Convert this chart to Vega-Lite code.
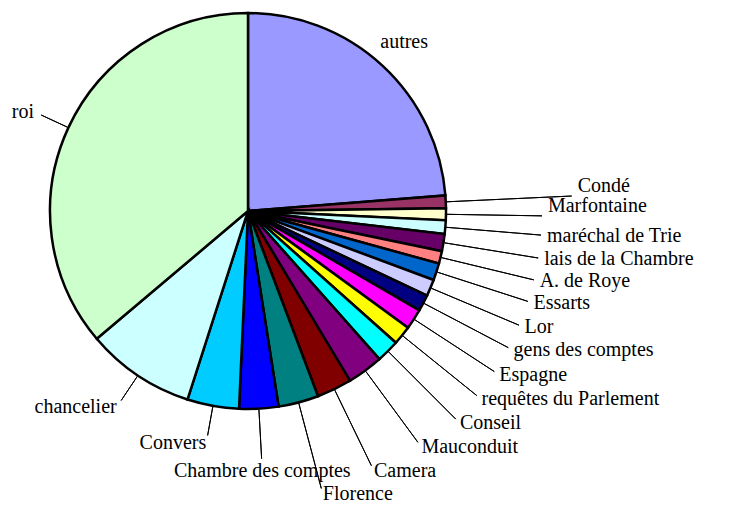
{
  "$schema": "https://vega.github.io/schema/vega-lite/v6.json",
  "width": 496,
  "height": 422,
  "autosize": {"type": "none"},
  "padding": {"left": 0, "top": 0, "right": 254, "bottom": 84},
  "background": "white",
  "config": {"view": {"stroke": null}, "text": {"font": "Liberation Serif", "fontSize": 20, "color": "black", "baseline": "middle"}},
  "data": {
    "values": [
      {"label": "autres", "value": 85.5},
      {"label": "Condé", "value": 3.7},
      {"label": "Marfontaine", "value": 3.5},
      {"label": "maréchal de Trie", "value": 4.0},
      {"label": "lais de la Chambre", "value": 5.0},
      {"label": "A. de Roye", "value": 3.7},
      {"label": "Essarts", "value": 5.0},
      {"label": "Lor", "value": 4.9},
      {"label": "gens des comptes", "value": 4.8},
      {"label": "Espagne", "value": 6.0},
      {"label": "requêtes du Parlement", "value": 5.6},
      {"label": "Conseil", "value": 6.7},
      {"label": "Mauconduit", "value": 10.6},
      {"label": "Camera", "value": 10.3},
      {"label": "Florence", "value": 11.8},
      {"label": "Chambre des comptes", "value": 11.5},
      {"label": "Convers", "value": 15.2},
      {"label": "chancelier", "value": 32.0},
      {"label": "roi", "value": 130.2}
    ]
  },
  "transform": [{"window": [{"op": "row_number", "as": "idx"}]}],
  "encoding": {
    "theta": {"field": "value", "type": "quantitative", "stack": true},
    "order": {"field": "idx", "type": "quantitative"},
    "detail": {"field": "label", "type": "nominal"}
  },
  "layer": [
    {
      "mark": {"type": "arc", "outerRadius": 198, "stroke": "black", "strokeWidth": 2.5},
      "encoding": {
        "color": {
          "field": "label",
          "type": "nominal",
          "legend": null,
          "scale": {
            "domain": ["autres", "Condé", "Marfontaine", "maréchal de Trie", "lais de la Chambre", "A. de Roye", "Essarts", "Lor", "gens des comptes", "Espagne", "requêtes du Parlement", "Conseil", "Mauconduit", "Camera", "Florence", "Chambre des comptes", "Convers", "chancelier", "roi"],
            "range": ["#9999FF", "#993366", "#FFFFCC", "#CCFFFF", "#660066", "#FF8080", "#0066CC", "#CCCCFF", "#000080", "#FF00FF", "#FFFF00", "#00FFFF", "#800080", "#800000", "#008080", "#0000FF", "#00CCFF", "#CCFFFF", "#CCFFCC"]
          }
        }
      }
    },
    {
      "mark": {"type": "arc", "innerRadius": 199, "outerRadius": 294, "padAngle": 3.1, "stroke": "black", "strokeWidth": 1, "fillOpacity": 0},
      "encoding": {
        "strokeOpacity": {
          "condition": {"test": "indexof(['Marfontaine','maréchal de Trie','lais de la Chambre','A. de Roye','Essarts','Lor','gens des comptes','Espagne','requêtes du Parlement','Conseil'], datum.label) >= 0", "value": 1},
          "value": 0
        }
      }
    },
    {
      "mark": {"type": "arc", "innerRadius": 199, "outerRadius": 324, "padAngle": 3.1, "stroke": "black", "strokeWidth": 1, "fillOpacity": 0},
      "encoding": {
        "strokeOpacity": {"condition": {"test": "datum.label === 'Condé'", "value": 1}, "value": 0}
      }
    },
    {
      "mark": {"type": "arc", "innerRadius": 199, "outerRadius": 287, "padAngle": 3.1, "stroke": "black", "strokeWidth": 1, "fillOpacity": 0},
      "encoding": {
        "strokeOpacity": {"condition": {"test": "indexof(['Mauconduit','Florence'], datum.label) >= 0", "value": 1}, "value": 0}
      }
    },
    {
      "mark": {"type": "arc", "innerRadius": 199, "outerRadius": 283, "padAngle": 3.1, "stroke": "black", "strokeWidth": 1, "fillOpacity": 0},
      "encoding": {
        "strokeOpacity": {"condition": {"test": "datum.label === 'Camera'", "value": 1}, "value": 0}
      }
    },
    {
      "mark": {"type": "arc", "innerRadius": 199, "outerRadius": 248, "padAngle": 3.1, "stroke": "black", "strokeWidth": 1, "fillOpacity": 0},
      "encoding": {
        "strokeOpacity": {"condition": {"test": "datum.label === 'Chambre des comptes'", "value": 1}, "value": 0}
      }
    },
    {
      "mark": {"type": "arc", "innerRadius": 199, "outerRadius": 228, "padAngle": 3.1, "stroke": "black", "strokeWidth": 1, "fillOpacity": 0},
      "encoding": {
        "strokeOpacity": {"condition": {"test": "indexof(['Convers','chancelier','roi'], datum.label) >= 0", "value": 1}, "value": 0}
      }
    },
    {
      "mark": {"type": "text", "radius": 300, "align": "left"},
      "encoding": {
        "text": {
          "condition": {"test": "indexof(['maréchal de Trie','lais de la Chambre','A. de Roye','Essarts','Lor','gens des comptes','Espagne','requêtes du Parlement','Conseil'], datum.label) >= 0", "field": "label", "type": "nominal"},
          "value": ""
        }
      }
    },
    {
      "mark": {"type": "text", "radius": 300, "align": "left", "baseline": "bottom"},
      "encoding": {
        "text": {"condition": {"test": "datum.label === 'Marfontaine'", "field": "label", "type": "nominal"}, "value": ""}
      }
    },
    {
      "mark": {"type": "text", "radius": 330, "align": "left", "baseline": "bottom"},
      "encoding": {
        "text": {"condition": {"test": "datum.label === 'Condé'", "field": "label", "type": "nominal"}, "value": ""}
      }
    },
    {
      "mark": {"type": "text", "radius": 293, "align": "left"},
      "encoding": {
        "text": {"condition": {"test": "indexof(['Mauconduit','Florence'], datum.label) >= 0", "field": "label", "type": "nominal"}, "value": ""}
      }
    },
    {
      "mark": {"type": "text", "radius": 289, "align": "left"},
      "encoding": {
        "text": {"condition": {"test": "datum.label === 'Camera'", "field": "label", "type": "nominal"}, "value": ""}
      }
    },
    {
      "mark": {"type": "text", "radius": 260, "align": "center"},
      "encoding": {
        "text": {"condition": {"test": "datum.label === 'Chambre des comptes'", "field": "label", "type": "nominal"}, "value": ""}
      }
    },
    {
      "mark": {"type": "text", "radius": 236, "align": "right"},
      "encoding": {
        "text": {"condition": {"test": "indexof(['Convers','chancelier','roi'], datum.label) >= 0", "field": "label", "type": "nominal"}, "value": ""}
      }
    },
    {
      "mark": {"type": "text", "radius": 230, "align": "center"},
      "encoding": {
        "text": {"condition": {"test": "datum.label === 'autres'", "field": "label", "type": "nominal"}, "value": ""}
      }
    }
  ]
}
